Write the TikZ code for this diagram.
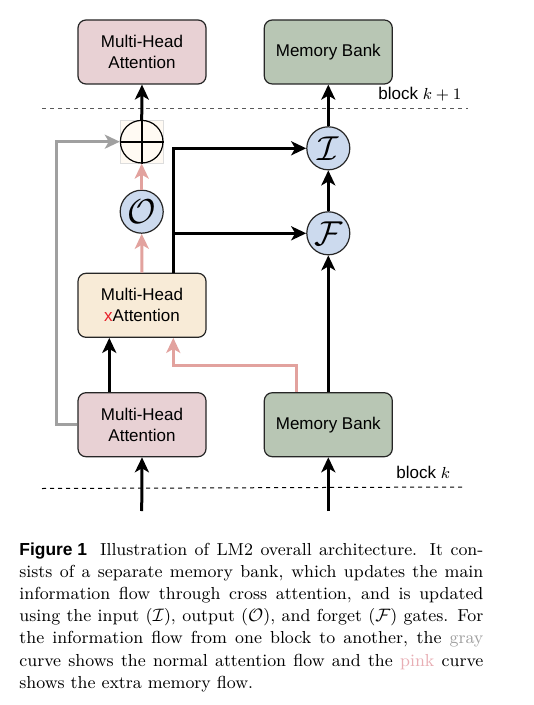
\documentclass[tikz,border=0pt]{standalone}
\usepackage{fontspec}
\newfontfamily\helv{Liberation Sans}
\usetikzlibrary{arrows.meta,calc}
\definecolor{mhapink}{HTML}{E8D1D4}
\definecolor{mbgreen}{HTML}{B8C6B4}
\definecolor{xcream}{HTML}{F8EBD7}
\definecolor{gateblue}{HTML}{CCDAEE}
\definecolor{flowpink}{HTML}{E2A29E}
\definecolor{flowgray}{HTML}{A0A0A0}
\definecolor{sqfill}{HTML}{FFFAF3}
\definecolor{sqline}{HTML}{DDDDDD}
\definecolor{capgray}{HTML}{A0A0A0}
\definecolor{cappink}{HTML}{E8AEB4}
\definecolor{xred}{HTML}{E8202A}
\begin{document}
\begin{tikzpicture}[x=0.5pt,y=-0.5pt,
  box/.style={draw=black!85,line width=0.6pt,rounded corners=4pt,minimum width=64pt,minimum height=32pt,inner sep=0pt,align=center,font=\helv\fontsize{8.5}{10.5}\selectfont},
  gate/.style={circle,draw=black!85,line width=0.6pt,fill=gateblue,minimum size=21.5pt,inner sep=0pt,font=\fontsize{16}{16}\selectfont},
  tip/.style={-{Stealth[length=7.5pt,width=7pt,inset=2pt]}},
  blk/.style={line width=1.5pt,draw=black,tip},
  pnk/.style={line width=1.5pt,draw=flowpink,tip},
  gry/.style={line width=1.5pt,draw=flowgray,tip},
  dashline/.style={line width=0.5pt,dash pattern=on 2pt off 2pt},
  lbl/.style={inner sep=0pt,font=\helv\fontsize{8.5}{10.5}\selectfont}
]
\useasboundingbox[fill=white] (0,0) rectangle (534,705);
% boxes
\node[box,fill=mhapink] (tmha) at (142,52) {Multi-Head\\Attention};
\node[box,fill=mbgreen] (tmb) at (328.3,52) {Memory Bank};
\node[box,fill=xcream] (xatt) at (142,305.3) {Multi-Head\\{\color{xred}x}Attention};
\node[box,fill=mhapink] (bmha) at (142,424.7) {Multi-Head\\Attention};
\node[box,fill=mbgreen] (bmb) at (328.3,424.7) {Memory Bank};
% oplus
\node[draw=sqline,fill=sqfill,line width=0.4pt,minimum size=21.5pt,inner sep=0pt] (sq) at (141.7,141.7) {};
\node[circle,draw=black,line width=0.6pt,fill=sqfill,minimum size=21.3pt,inner sep=0pt] (oplus) at (141.7,141.7) {};
\draw[line width=1pt] (oplus.north) -- (oplus.south);
\draw[line width=1pt] (oplus.west) -- (oplus.east);
% gates
\node[gate] (O) at (141.7,211.7) {$\mathcal{O}$};
\node[gate] (I) at (328.3,148.3) {$\mathcal{I}$};
\node[gate] (F) at (328.3,233.3) {$\mathcal{F}$};
% dashed separators
\coordinate (d1a) at (42,109); \coordinate (d1b) at (468,109);
\draw[dashline,draw=black!65] (d1a) -- (d1b);
\coordinate (d2a) at (42,488.5); \coordinate (d2b) at (462,487);
\draw[dashline,draw=black] (d2a) -- (d2b);
\node[lbl,anchor=base west] (bk1) at (378,100) {block $k+1$};
\node[lbl,anchor=base west] (bk) at (396,478) {block $k$};
% coordinates
\coordinate (in1) at (141.7,511);
\coordinate (in2) at (328.3,511);
\coordinate (gx) at (56,0);
\coordinate (pk) at (296.7,365);
\coordinate (bx) at (173.3,0);
% connectors
\draw[blk] (in1) -- (bmha.south);
\draw[blk] (in2) -- (bmb.south);
\draw[blk] ([xshift=-16.35pt]bmha.north) -- ([xshift=-16.35pt]xatt.south);
\draw[pnk] (bmb.north -| pk) -- (pk) -| (xatt.south -| bx);
\draw[blk] (bmb.north) -- (F.south);
\draw[blk] (F.north) -- (I.south);
\draw[blk] (I.north) -- (tmb.south);
\draw[pnk] (xatt.north) -- (O.south);
\draw[pnk] (O.north) -- (oplus.south);
\draw[blk] (oplus.north) -- (tmha.south);
\draw[gry] (bmha.west) -- (bmha.west -| gx) |- (oplus.west);
\coordinate (br) at (bx |- F);
\coordinate (bt) at (bx |- I);
\draw[line width=1.5pt] (xatt.north -| bx) -- ([yshift=0.75pt]bt);
\draw[blk] (bt) -- (I.west);
\draw[blk] (br) -- (F.west);
% caption
\node[anchor=base west,inner sep=0pt] (cap) at (19,555) {\parbox[t]{232pt}{\fontsize{8.7}{11.1}\selectfont
\mbox{\helv\bfseries Figure~1}\hspace{6.5pt}Illustration of LM2 overall architecture. It con-\linebreak
sists of a separate memory bank, which updates the main\linebreak
information flow through cross attention, and is updated\linebreak
using the input ($\mathcal{I}$), output ($\mathcal{O}$), and forget ($\mathcal{F}$) gates. For\linebreak
the information flow from one block to another, the {\color{capgray}gray}\linebreak
curve shows the normal attention flow and the {\color{cappink}pink} curve\linebreak
shows the extra memory flow.}};
\end{tikzpicture}
\end{document}
